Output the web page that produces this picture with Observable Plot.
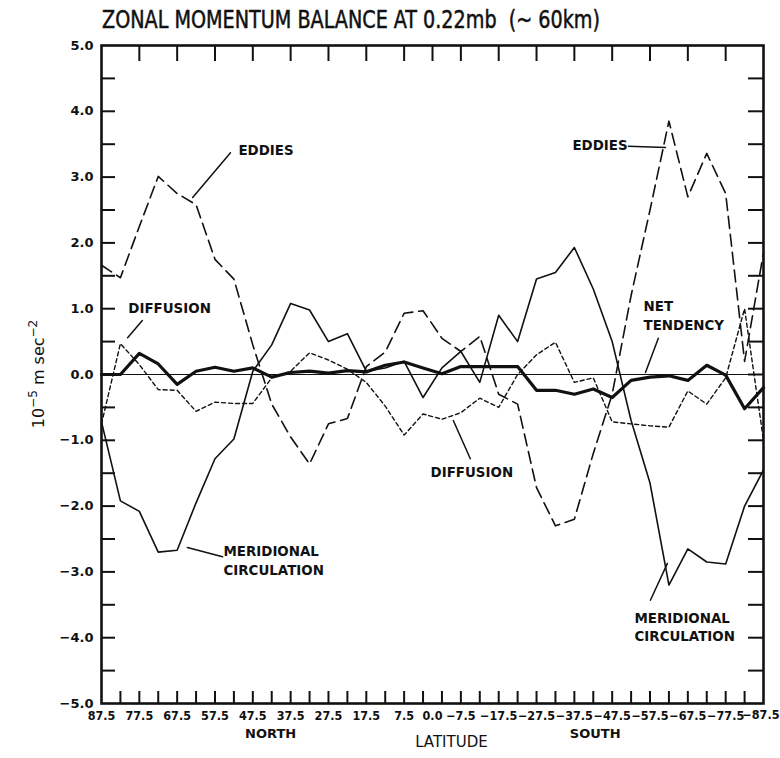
<!DOCTYPE html>
<html><head><meta charset="utf-8">
<script src="https://cdn.jsdelivr.net/npm/d3@7"></script>
<script src="https://cdn.jsdelivr.net/npm/@observablehq/plot@0.6"></script>
<style>
body{margin:0;background:#fff;}
#wrap{position:relative;width:780px;height:758px;overflow:hidden;background:#fff;}
#chart{position:absolute;left:0;top:0;}
#title{position:absolute;left:102px;top:5px;font-family:"Liberation Sans Narrow","DejaVu Sans Condensed","Liberation Sans",sans-serif;font-size:25px;white-space:pre;transform-origin:0 0;color:#111;-webkit-text-stroke:0.5px #111;}
</style></head><body>
<div id="wrap"><div id="chart"></div><div id="title">ZONAL MOMENTUM BALANCE AT 0.22mb  (~ 60km)</div></div>
<script>
// ---- data ----
const latitudes = [87.5, 82.5, 77.5, 72.5, 67.5, 62.5, 57.5, 52.5, 47.5, 42.5, 37.5, 32.5, 27.5, 22.5, 17.5, 12.5, 7.5, 2.5,
  -2.5, -7.5, -12.5, -17.5, -22.5, -27.5, -32.5, -37.5, -42.5, -47.5, -52.5, -57.5, -62.5, -67.5, -72.5, -77.5, -82.5, -87.5];
const eddies = [1.66, 1.47, 2.25, 3.01, 2.75, 2.58, 1.75, 1.45, 0.45, -0.45, -0.95, -1.36, -0.75, -0.67, 0.12, 0.34, 0.93, 0.97,
  0.55, 0.35, 0.58, -0.3, -0.45, -1.72, -2.3, -2.2, -1.2, -0.3, 1.2, 2.5, 3.85, 2.7, 3.36, 2.75, 0.2, 1.85];
const diffusion = [-0.75, 0.47, 0.15, -0.23, -0.24, -0.56, -0.42, -0.44, -0.44, -0.05, 0.05, 0.33, 0.22, 0.08, -0.12, -0.48, -0.92, -0.6,
  -0.68, -0.58, -0.36, -0.5, 0.0, 0.3, 0.49, -0.12, -0.05, -0.72, -0.75, -0.78, -0.8, -0.25, -0.45, -0.05, 1.0, -1.0];
const netTendency = [0.0, 0.0, 0.32, 0.16, -0.15, 0.05, 0.11, 0.05, 0.1, -0.04, 0.03, 0.05, 0.02, 0.06, 0.04, 0.14, 0.19, 0.1,
  0.01, 0.12, 0.12, 0.12, 0.12, -0.24, -0.24, -0.3, -0.22, -0.35, -0.09, -0.04, -0.02, -0.09, 0.14, -0.01, -0.52, -0.2];
const meridional = [-0.72, -1.92, -2.08, -2.7, -2.67, -1.95, -1.28, -0.98, 0.05, 0.45, 1.08, 0.98, 0.5, 0.62, 0.05, 0.1, 0.2, -0.35,
  0.1, 0.35, -0.12, 0.9, 0.5, 1.45, 1.55, 1.93, 1.3, 0.5, -0.7, -1.65, -3.2, -2.65, -2.85, -2.88, -2.0, -1.45];

const latLabels = [87.5, 77.5, 67.5, 57.5, 47.5, 37.5, 27.5, 17.5, 7.5, 0.0, -7.5, -17.5, -27.5, -37.5, -47.5, -57.5, -67.5, -77.5, -87.5];
const valueLabels = [-5, -4, -3, -2, -1, 0, 1, 2, 3, 4, 5];
const valueTickMarks = [-4.5, -4, -3.5, -3, -2.5, -2, -1.5, -1, -0.5, 0, 0.5, 1, 1.5, 2, 2.5, 3, 3.5, 4, 4.5];
const bottomTickMarks = [82.5, 77.5, 72.5, 67.5, 62.5, 57.5, 52.5, 47.5, 42.5, 37.5, 32.5, 27.5, 22.5, 17.5, 12.5, 7.5, 2.5,
  -2.5, -7.5, -12.5, -17.5, -22.5, -27.5, -32.5, -37.5, -42.5, -47.5, -52.5, -57.5, -62.5, -67.5, -72.5, -77.5, -82.5];

const annotationTexts = ["EDDIES", "EDDIES", "DIFFUSION", "DIFFUSION", "NET", "TENDENCY", "MERIDIONAL", "CIRCULATION", "MERIDIONAL", "CIRCULATION"];
const annotationLat   = [51.3, -37.0, 80.4, 0.5, -55.8, -55.8, 55.25, 55.25, -53.4, -53.4];
const annotationValue = [3.40, 3.47, 1.0, -1.5, 1.03, 0.745, -2.70, -2.98, -3.71, -3.98];

const arrowFromLat = [53.4, -51.8, 76.7, -10.0, -59.7, 55.5, -57.6];
const arrowFromVal = [3.37, 3.47, 0.82, -1.28, 0.55, -2.77, -3.43];
const arrowToLat   = [63.4, -61.6, 80.6, -5.5, -56.3, 64.8, -62.1];
const arrowToVal   = [2.69, 3.45, 0.56, -0.70, 0.03, -2.63, -2.87];
const arrowBend    = [-35, 0, 0, 35, 0, 0, 0];

const axisWords = ["NORTH", "LATITUDE", "SOUTH"];
const axisWordLat = [42.8, -5.0, -43.0];

// ---- build tables ----
const rows = latitudes.map((lat, i) => ({lat, eddies: eddies[i], diffusion: diffusion[i], net: netTendency[i], meridional: meridional[i]}));
const notes = annotationTexts.map((t, i) => ({text: t, lat: annotationLat[i], value: annotationValue[i]}));
const arrows = arrowFromLat.map((d, i) => ({x1: d, y1: arrowFromVal[i], x2: arrowToLat[i], y2: arrowToVal[i], bend: arrowBend[i]}));
const words = axisWords.map((w, i) => ({text: w, lat: axisWordLat[i]}));

const W = 780, H = 758, mL = 101, mR = 17, mT = 45, mB = 55;
const pw = W - mL - mR, ph = H - mT - mB;
const fmt = d => (d < 0 ? "\u2212" : "") + Math.abs(d).toFixed(1);
const ink = "#111";
const labelFont = "DejaVu Sans, sans-serif";
const narrow = "Liberation Sans Narrow, DejaVu Sans Condensed, sans-serif";

const plot = Plot.plot({
  width: W, height: H,
  marginLeft: mL, marginRight: mR, marginTop: mT, marginBottom: mB,
  x: {type: "linear", domain: [87.5, -87.5]},
  y: {type: "linear", domain: [-5, 5]},
  style: {background: "transparent", color: ink, fontFamily: labelFont},
  marks: [
    Plot.ruleY([0], {stroke: ink, strokeWidth: 1.1}),
    Plot.tickY(valueTickMarks, {y: d => d, insetRight: pw - 14, stroke: ink, strokeWidth: 2}),
    Plot.tickY(valueTickMarks, {y: d => d, insetLeft: pw - 15, stroke: ink, strokeWidth: 2}),
    Plot.tickX(latLabels.slice(1, -1), {x: d => d, insetBottom: ph - 16, stroke: ink, strokeWidth: 2}),
    Plot.tickX(bottomTickMarks, {x: d => d, insetTop: ph - 12, stroke: ink, strokeWidth: 2}),
    Plot.axisY({ticks: valueLabels, tickSize: 0, tickPadding: 8, tickFormat: fmt, fontSize: 13, fontWeight: "bold", label: null}),
    Plot.axisX({ticks: latLabels.slice(0, -1), tickSize: 0, tickPadding: 8, tickFormat: fmt, fontSize: 12.5, fontWeight: "bold",
      fontFamily: narrow, label: null}),
    Plot.text(latLabels.slice(-1), {x: d => d, frameAnchor: "bottom", dy: 15, text: fmt, textAnchor: "end", dx: 16,
      fontSize: 12.5, fontWeight: "bold", fontFamily: narrow, fill: ink}),
    Plot.line(rows, {x: "lat", y: "meridional", stroke: ink, strokeWidth: 1.6}),
    Plot.line(rows, {x: "lat", y: "eddies", stroke: ink, strokeWidth: 1.6, strokeDasharray: "12,6"}),
    Plot.line(rows, {x: "lat", y: "diffusion", stroke: ink, strokeWidth: 1.4, strokeDasharray: "4,3"}),
    Plot.line(rows, {x: "lat", y: "net", stroke: ink, strokeWidth: 3.2}),
    Plot.frame({stroke: ink, strokeWidth: 2.6}),
    Plot.text(notes, {x: "lat", y: "value", text: "text", textAnchor: "start", fontSize: 13.4, fontWeight: "bold", fill: ink}),
    Plot.arrow(arrows, {x1: "x1", y1: "y1", x2: "x2", y2: "y2", bend: d => d.bend, stroke: ink, strokeWidth: 1.5, headLength: 8}),
    Plot.text(words.filter(d => d.text !== "LATITUDE"), {x: "lat", frameAnchor: "bottom", dy: 34, text: "text", fontSize: 13, fontWeight: "bold", fill: ink}),
    Plot.text(words.filter(d => d.text === "LATITUDE"), {x: "lat", frameAnchor: "bottom", dy: 43, text: "text", fontSize: 15, fill: ink})
  ]
});
document.getElementById("chart").appendChild(plot);

// y-axis title with real superscripts
const svg = d3.select(plot);
const yt = svg.append("text")
  .attr("transform", `translate(44,${mT + ph / 2}) rotate(-90)`)
  .attr("text-anchor", "middle")
  .attr("font-family", labelFont)
  .attr("font-size", 16)
  .attr("fill", ink);
yt.append("tspan").text("10");
yt.append("tspan").attr("font-size", 12).attr("dy", -7).text("\u22125");
yt.append("tspan").attr("dy", 7).text(" m sec");
yt.append("tspan").attr("font-size", 12).attr("dy", -7).text("\u22122");

// fit the condensed title to its width in the reference
const title = document.getElementById("title");
const tw = title.getBoundingClientRect().width;
title.style.transform = `scaleX(${498 / tw})`;
</script>
</body></html>
